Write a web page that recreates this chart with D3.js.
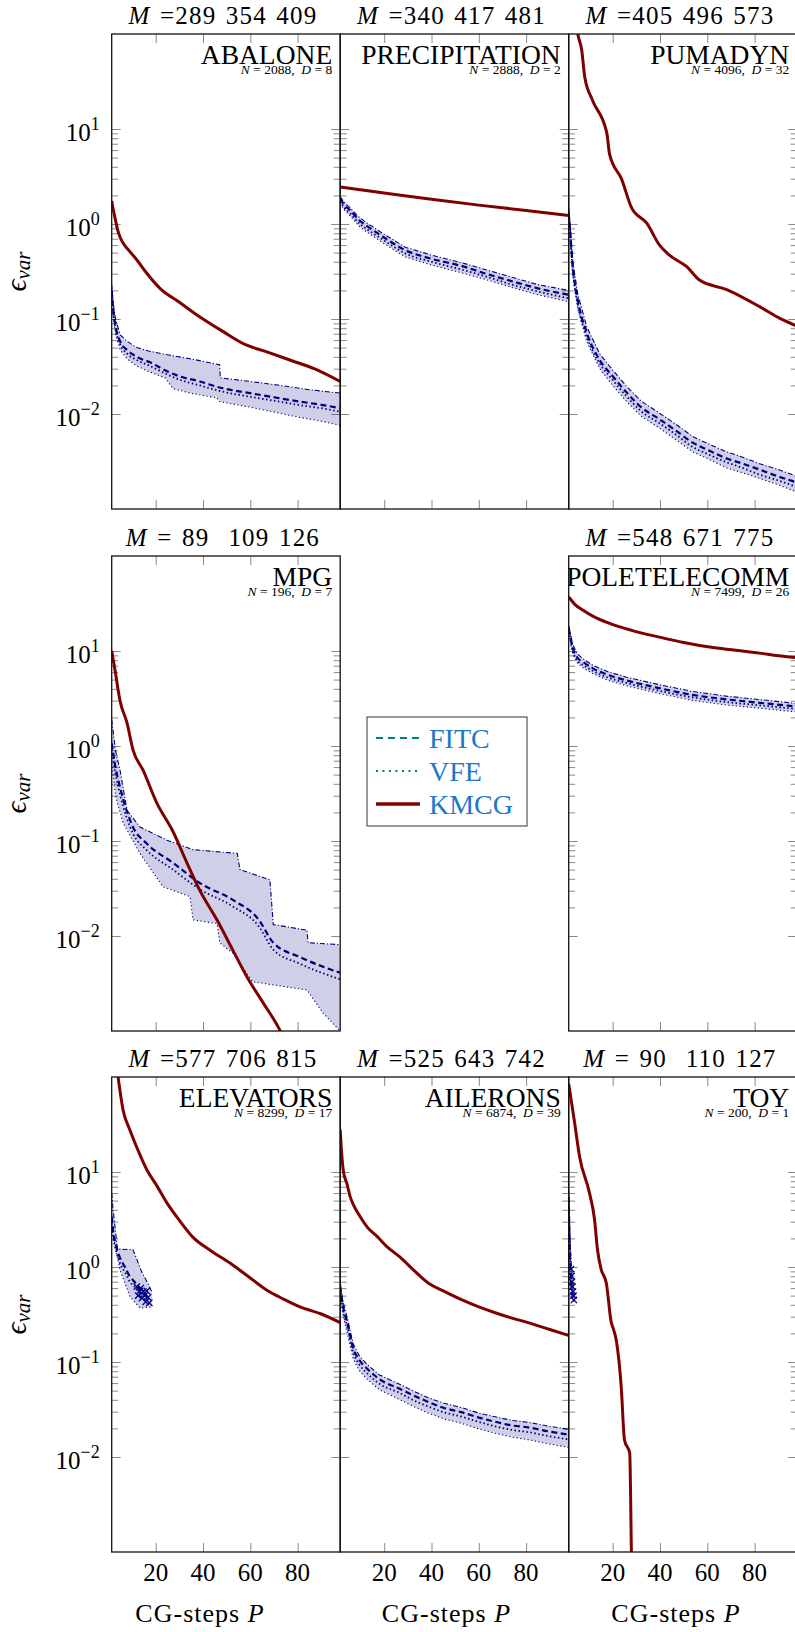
<!DOCTYPE html>
<html>
<head>
<meta charset="utf-8">
<script src="https://cdn.jsdelivr.net/npm/d3@7"></script>
<style>
  body { margin: 0; background: #fff; }
  svg text { font-family: "Liberation Serif", "DejaVu Serif", serif; }
</style>
</head>
<body>
<svg id="chart" width="795" height="1632"></svg>
<script>
// ------------------------------- data -------------------------------
const xTicks = [20, 40, 60, 80];
const yMajor = [0.01, 0.1, 1, 10];
const yTickSup = ['−2', '−1', '0', '1'];

// [CG-step, eps_var]
const abaloneKmcg = [[1.4,1.75],[2,1.45],[3,1.1],[4,0.85],[5,0.72],[6.2,0.63],[8.3,0.54],[12,0.42],[15.5,0.32],[21.8,0.21],[30,0.15],[38.7,0.105],[48,0.075],[57.7,0.054],[67,0.045],[76.7,0.037],[87,0.03],[98,0.022]];
const abaloneFitc = [[1.4,0.2],[2,0.13],[3,0.085],[5,0.058],[8,0.047],[12,0.04],[17.6,0.035],[25,0.028],[30,0.025],[38.7,0.022],[47,0.019],[59.8,0.0166],[70,0.015],[81,0.0135],[90,0.0125],[98,0.0115]];
const abaloneVfe = [[1.4,0.19],[2,0.12],[3,0.08],[5,0.054],[8,0.043],[12,0.037],[17.6,0.032],[25,0.026],[30,0.023],[38.7,0.02],[47,0.0175],[59.8,0.0152],[70,0.0138],[81,0.0124],[90,0.0115],[98,0.0106]];
const abaloneHi = [[1.4,0.23],[2,0.15],[3,0.1],[5,0.068],[8,0.058],[12,0.05],[17,0.046],[25,0.042],[35,0.038],[47,0.033],[47.3,0.024],[60,0.022],[72.5,0.02],[85,0.018],[98,0.0166]];
const abaloneLo = [[1.4,0.17],[2,0.105],[3,0.07],[5,0.047],[8,0.038],[12,0.032],[17,0.028],[24,0.024],[27.3,0.0185],[35,0.0165],[45.9,0.0148],[47,0.0135],[60,0.0118],[70,0.0105],[81,0.0092],[90,0.0084],[98,0.0076]];

const precipKmcg = [[1.4,2.45],[20,2.12],[40,1.82],[60,1.58],[80,1.39],[98,1.23]];
const precipFitc = [[1.4,1.85],[3,1.6],[5.6,1.4],[9,1.12],[12.8,0.95],[19.6,0.73],[28.9,0.53],[40,0.43],[53,0.36],[63,0.3],[74,0.25],[85,0.21],[98,0.18]];
const precipVfe = [[1.4,1.75],[3,1.5],[5.6,1.3],[9,1.04],[12.8,0.88],[19.6,0.68],[28.9,0.49],[40,0.4],[53,0.33],[63,0.28],[74,0.23],[85,0.195],[98,0.165]];
const precipHi = [[1.4,1.95],[3,1.7],[5.6,1.48],[9,1.2],[12.8,1.02],[19.6,0.79],[28.9,0.57],[40,0.47],[53,0.39],[63,0.33],[74,0.275],[85,0.23],[98,0.2]];
const precipLo = [[1.4,1.65],[3,1.42],[5.6,1.22],[9,0.97],[12.8,0.82],[19.6,0.63],[28.9,0.45],[40,0.37],[53,0.305],[63,0.26],[74,0.215],[85,0.18],[98,0.152]];

const pumadynKmcg = [[3.5,250],[5.2,102],[6.9,68],[8.2,35],[11.5,20],[17.5,9.1],[18.7,5.4],[23.8,2.95],[28,1.48],[34.4,1.02],[39.8,0.6],[44,0.47],[51.3,0.355],[56.7,0.257],[68.2,0.204],[82.1,0.135],[90.5,0.102],[98,0.084]];
const pumadynFitc = [[1.4,1.3],[1.8,1.0],[3.1,0.36],[5.2,0.16],[9,0.072],[14.5,0.037],[20,0.025],[25.9,0.0168],[32,0.0118],[39.8,0.0088],[47,0.0066],[53.8,0.005],[60,0.0042],[68.2,0.0034],[75,0.003],[82.1,0.0026],[90,0.0022],[98,0.0019]];
const pumadynVfe = [[1.4,1.2],[1.8,0.92],[3.1,0.33],[5.2,0.145],[9,0.066],[14.5,0.034],[20,0.0228],[25.9,0.0153],[32,0.0107],[39.8,0.008],[47,0.006],[53.8,0.0045],[60,0.0038],[68.2,0.0031],[75,0.0027],[82.1,0.0023],[90,0.002],[98,0.0017]];
const pumadynHi = [[1.4,1.45],[1.8,1.12],[3.1,0.41],[5.2,0.185],[9,0.083],[14.5,0.043],[20,0.029],[25.9,0.0195],[32,0.0137],[39.8,0.0102],[47,0.0077],[53.8,0.0058],[60,0.0049],[68.2,0.004],[75,0.0035],[82.1,0.003],[90,0.0026],[98,0.0022]];
const pumadynLo = [[1.4,1.05],[1.8,0.8],[3.1,0.29],[5.2,0.128],[9,0.058],[14.5,0.03],[20,0.02],[25.9,0.0135],[32,0.0095],[39.8,0.0071],[47,0.0053],[53.8,0.004],[60,0.0034],[68.2,0.0027],[75,0.0024],[82.1,0.0021],[90,0.0018],[98,0.0015]];

const mpgKmcg = [[1.4,10],[2.8,6.3],[4.9,3.0],[7.9,1.74],[10.4,0.91],[14.6,0.56],[20.5,0.25],[27.3,0.126],[33.2,0.059],[38.7,0.03],[45.9,0.0148],[52.6,0.0071],[58.6,0.0037],[65.3,0.002],[72.5,0.00102],[78,0.0005]];
const mpgFitc = [[1.4,1.07],[3,0.6],[4.9,0.37],[10.4,0.14],[16,0.095],[27.3,0.059],[38.7,0.036],[52.6,0.024],[63.6,0.0148],[69.7,0.0085],[81,0.006],[98,0.0041]];
const mpgVfe = [[1.4,0.92],[3,0.51],[4.9,0.31],[10.4,0.12],[16,0.081],[27.3,0.05],[38.7,0.031],[52.6,0.0205],[63.6,0.0126],[69.7,0.0072],[81,0.0051],[98,0.0035]];
const mpgHi = [[1.4,1.9],[3,0.9],[4.9,0.56],[7.9,0.21],[13.4,0.14],[24.8,0.102],[35.8,0.081],[54.5,0.074],[55.6,0.05],[68.3,0.039],[69.7,0.0132],[84,0.0115],[84.4,0.0085],[98,0.0081]];
const mpgLo = [[1.4,0.66],[3,0.3],[6.2,0.155],[13.4,0.074],[23.1,0.033],[34.5,0.026],[35.8,0.0148],[45.9,0.0135],[47.1,0.0085],[52.6,0.0066],[61,0.0033],[84,0.0027],[90.7,0.00155],[98,0.001]];

const poleKmcg = [[1.4,37],[1.8,36],[4,31],[7.3,27],[12,23],[18.7,19.5],[28,16.5],[39.8,14],[50,12.3],[61,11],[72,10.2],[82.1,9.5],[90,8.9],[98,8.5]];
const poleFitc = [[1.4,17],[1.8,15.5],[3,11],[4.8,8.7],[8,7.5],[11.5,6.6],[18,5.6],[25.9,4.9],[40,4.05],[53.8,3.45],[68,3.1],[82.1,2.85],[98,2.6]];
const poleVfe = [[1.4,16],[1.8,14.5],[3,10.3],[4.8,8.1],[8,7],[11.5,6.2],[18,5.25],[25.9,4.6],[40,3.8],[53.8,3.25],[68,2.9],[82.1,2.68],[98,2.45]];
const poleHi = [[1.4,18.5],[1.8,16.8],[3,12],[4.8,9.4],[8,8.1],[11.5,7.1],[18,6.05],[25.9,5.3],[40,4.4],[53.8,3.75],[68,3.35],[82.1,3.08],[98,2.8]];
const poleLo = [[1.4,15],[1.8,13.6],[3,9.6],[4.8,7.6],[8,6.5],[11.5,5.8],[18,4.9],[25.9,4.3],[40,3.55],[53.8,3.02],[68,2.7],[82.1,2.5],[98,2.28]];

const elevKmcg = [[3.5,130],[4.1,100],[6.2,45],[9.1,27.7],[12.5,17],[16.3,10.5],[20,7.5],[24.8,4.7],[30,3.1],[35.8,2.05],[43,1.5],[51.4,1.1],[59,0.8],[67,0.57],[74,0.46],[81,0.38],[90,0.32],[98,0.26]];
const elevFitc = [[1.4,3.4],[2,2.4],[3.5,1.6],[4.9,1.25],[7,1.0],[9.1,0.79],[11,0.7],[13.4,0.58],[15,0.52],[16.6,0.49]];
const elevVfe = [[1.4,2.9],[2,2.1],[3.5,1.4],[4.9,1.1],[7,0.88],[9.1,0.7],[11,0.62],[13.4,0.52],[15,0.47],[16.6,0.44]];
const elevHi = [[1.4,6],[2,4],[3,2.4],[3.8,1.55],[10.4,1.52],[14,0.9],[17,0.65],[18.5,0.54]];
const elevLo = [[1.4,2.6],[2.1,2.1],[4.9,0.93],[9.1,0.49],[13.4,0.37],[18.5,0.38]];
const elevMarks = [[12,0.62],[12.6,0.5],[13.2,0.56],[13.7,0.6],[14.2,0.47],[14.8,0.55],[15.3,0.5],[15.8,0.43],[16.2,0.56],[16.8,0.48],[17.3,0.42]];

const aileronsKmcg = [[1.4,28],[2,16],[2.8,10],[4.2,7.6],[5.6,5.5],[7,4.5],[9.8,3.4],[13,2.6],[17,2.1],[21,1.65],[26.7,1.27],[32,0.95],[38.6,0.68],[45,0.56],[52.9,0.45],[60,0.38],[66.9,0.33],[74,0.29],[80.8,0.26],[90,0.22],[98,0.19]];
const aileronsFitc = [[1.4,0.62],[2.5,0.4],[4.4,0.26],[6.9,0.14],[9.5,0.105],[12.8,0.085],[18,0.066],[26.7,0.052],[32,0.045],[38.6,0.038],[45,0.033],[52.9,0.0295],[60,0.026],[66.9,0.0235],[74,0.0215],[80.8,0.0205],[90,0.0185],[98,0.0172]];
const aileronsVfe = [[1.4,0.56],[2.5,0.36],[4.4,0.235],[6.9,0.126],[9.5,0.094],[12.8,0.076],[18,0.059],[26.7,0.047],[32,0.04],[38.6,0.034],[45,0.0297],[52.9,0.0265],[60,0.0234],[66.9,0.021],[74,0.0193],[80.8,0.0183],[90,0.0165],[98,0.0153]];
const aileronsHi = [[1.4,0.68],[2.5,0.44],[4.4,0.29],[6.9,0.155],[9.5,0.116],[12.8,0.094],[18,0.073],[26.7,0.058],[32,0.05],[38.6,0.042],[45,0.037],[52.9,0.033],[60,0.029],[66.9,0.0265],[74,0.0243],[80.8,0.0232],[90,0.021],[98,0.0196]];
const aileronsLo = [[1.4,0.5],[2.5,0.32],[4.4,0.2],[6.9,0.108],[9.5,0.081],[12.8,0.066],[18,0.051],[26.7,0.04],[32,0.0345],[38.6,0.029],[45,0.0253],[52.9,0.0225],[60,0.0198],[66.9,0.0178],[74,0.0162],[80.8,0.0152],[90,0.0137],[98,0.0126]];

const toyKmcg = [[1.4,85],[1.8,73],[3.9,33],[6,14.5],[10.2,6],[12.3,3.2],[13.6,1.5],[15.2,0.93],[17.3,0.68],[19.4,0.26],[20.1,0.23],[21.5,0.17],[23.6,0.055],[25,0.015],[27.2,0.011],[27.9,0.001],[28.1,0.0005]];
const toyFitc = [[1.4,5.5],[1.6,3],[1.9,1.5],[2.2,0.9],[2.6,0.62],[3.2,0.48]];
const toyVfe = [[1.4,5],[1.6,2.7],[1.9,1.35],[2.2,0.82],[2.6,0.57],[3.2,0.45]];
const toyHi = [[1.4,6.5],[1.7,3.5],[2,1.8],[2.6,1.0],[3.3,0.6],[3.8,0.5]];
const toyLo = [[1.4,5],[1.7,2.5],[2,1.2],[2.6,0.7],[3.3,0.45],[3.8,0.42]];
const toyMarks = [[2.4,0.95],[2.6,0.8],[2.8,0.7],[3,0.62],[3.2,0.55],[3.4,0.5],[3.6,0.45]];

// ------------------------------ layout ------------------------------
const colX = [111.7, 340.2, 568.7];
const rowY = [34, 556, 1077];
const panelW = 228.5, panelH = 475;
const xDomain = [1.4, 98], yDomain = [1e-3, 1e2];
const navy = '#00007f', maroon = '#7f0000';

const panels = [
  {row: 0, col: 0, name: 'ABALONE', n: '2088', d: '8', title: '=289 354 409', kmcg: abaloneKmcg, fitc: abaloneFitc, vfe: abaloneVfe, hi: abaloneHi, lo: abaloneLo},
  {row: 0, col: 1, name: 'PRECIPITATION', n: '2888', d: '2', title: '=340 417 481', kmcg: precipKmcg, fitc: precipFitc, vfe: precipVfe, hi: precipHi, lo: precipLo},
  {row: 0, col: 2, name: 'PUMADYN', n: '4096', d: '32', title: '=405 496 573', kmcg: pumadynKmcg, fitc: pumadynFitc, vfe: pumadynVfe, hi: pumadynHi, lo: pumadynLo},
  {row: 1, col: 0, name: 'MPG', n: '196', d: '7', title: '= 89  109 126', kmcg: mpgKmcg, fitc: mpgFitc, vfe: mpgVfe, hi: mpgHi, lo: mpgLo},
  {row: 1, col: 2, name: 'POLETELECOMM', n: '7499', d: '26', title: '=548 671 775', kmcg: poleKmcg, fitc: poleFitc, vfe: poleVfe, hi: poleHi, lo: poleLo},
  {row: 2, col: 0, name: 'ELEVATORS', n: '8299', d: '17', title: '=577 706 815', kmcg: elevKmcg, fitc: elevFitc, vfe: elevVfe, hi: elevHi, lo: elevLo, marks: elevMarks},
  {row: 2, col: 1, name: 'AILERONS', n: '6874', d: '39', title: '=525 643 742', kmcg: aileronsKmcg, fitc: aileronsFitc, vfe: aileronsVfe, hi: aileronsHi, lo: aileronsLo},
  {row: 2, col: 2, name: 'TOY', n: '200', d: '1', title: '= 90  110 127', kmcg: toyKmcg, fitc: toyFitc, vfe: toyVfe, hi: toyHi, lo: toyLo, marks: toyMarks}
];

const svg = d3.select('#chart');
const x = d3.scaleLinear().domain(xDomain).range([0, panelW]);
const y = d3.scaleLog().domain(yDomain).range([panelH, 0]);

let yMinor = [];
[0.01, 0.1, 1].forEach(function (base) {
  for (let k = 2; k <= 9; k++) yMinor.push(base * k);
});

const line = d3.line().x(d => x(d[0])).y(d => y(d[1]));
const smooth = d3.line().x(d => x(d[0])).y(d => y(d[1])).curve(d3.curveMonotoneX);

function styleTicks(g) {
  g.select('.domain').remove();
  g.selectAll('line').attr('stroke', '#8a8a8a').attr('stroke-width', 1);
}

panels.forEach(function (p, i) {
  let g = svg.append('g').attr('transform', 'translate(' + colX[p.col] + ',' + rowY[p.row] + ')');
  let clipId = 'clip' + i;
  g.append('clipPath').attr('id', clipId)
    .append('rect').attr('width', panelW).attr('height', panelH);

  // ticks (inward, both sides)
  g.append('g').call(d3.axisRight(y).tickValues(yMajor).tickSize(9).tickFormat('')).call(styleTicks);
  g.append('g').call(d3.axisRight(y).tickValues(yMinor).tickSize(6.5).tickFormat('')).call(styleTicks);
  g.append('g').attr('transform', 'translate(' + panelW + ',0)')
    .call(d3.axisLeft(y).tickValues(yMajor).tickSize(9).tickFormat('')).call(styleTicks);
  g.append('g').attr('transform', 'translate(' + panelW + ',0)')
    .call(d3.axisLeft(y).tickValues(yMinor).tickSize(6.5).tickFormat('')).call(styleTicks);
  g.append('g').call(d3.axisBottom(x).tickValues(xTicks).tickSize(9).tickFormat('')).call(styleTicks);
  g.append('g').attr('transform', 'translate(0,' + panelH + ')')
    .call(d3.axisTop(x).tickValues(xTicks).tickSize(9).tickFormat('')).call(styleTicks);

  let plot = g.append('g').attr('clip-path', 'url(#' + clipId + ')');

  // dataset name
  plot.append('text')
    .attr('x', panelW - 8).attr('y', 30)
    .attr('text-anchor', 'end')
    .style('font-size', '27.5px')
    .text(p.name);
  let sub = plot.append('text')
    .attr('x', panelW - 8).attr('y', 40)
    .attr('text-anchor', 'end')
    .style('font-size', '13.5px')
    .attr('xml:space', 'preserve');
  sub.append('tspan').style('font-style', 'italic').text('N');
  sub.append('tspan').text(' = ' + p.n + ',  ');
  sub.append('tspan').style('font-style', 'italic').text('D');
  sub.append('tspan').text(' = ' + p.d);

  // band
  plot.append('path')
    .attr('d', line(p.hi.concat(p.lo.slice().reverse())) + 'Z')
    .attr('fill', navy).attr('fill-opacity', 0.19).attr('stroke', 'none');
  plot.append('path').attr('d', line(p.hi)).attr('fill', 'none')
    .attr('stroke', navy).attr('stroke-width', 1.1).attr('stroke-dasharray', '5,2,1.2,2');
  plot.append('path').attr('d', line(p.lo)).attr('fill', 'none')
    .attr('stroke', navy).attr('stroke-width', 1.1).attr('stroke-dasharray', '1.2,2.5');
  plot.append('path').attr('d', smooth(p.vfe)).attr('fill', 'none')
    .attr('stroke', navy).attr('stroke-width', 1.8).attr('stroke-dasharray', '1.5,2.5');
  plot.append('path').attr('d', smooth(p.fitc)).attr('fill', 'none')
    .attr('stroke', navy).attr('stroke-width', 2.2).attr('stroke-dasharray', '6,3.5');

  if (p.marks) {
    plot.selectAll('.mark').data(p.marks).enter().append('path')
      .attr('d', d3.symbol().type(d3.symbolX).size(28))
      .attr('transform', d => 'translate(' + x(d[0]) + ',' + y(d[1]) + ')')
      .attr('fill', 'none').attr('stroke', navy).attr('stroke-width', 1.3);
  }

  plot.append('path').attr('d', smooth(p.kmcg)).attr('fill', 'none')
    .attr('stroke', maroon).attr('stroke-width', 3).attr('stroke-linejoin', 'round');

  // frame
  g.append('rect').attr('width', panelW).attr('height', panelH)
    .attr('fill', 'none').attr('stroke', '#111').attr('stroke-width', 1.3);

  // title
  let t = g.append('text')
    .attr('x', panelW / 2 - 3).attr('y', -10)
    .attr('text-anchor', 'middle')
    .attr('xml:space', 'preserve')
    .style('font-size', '25px').style('letter-spacing', '1.2px').style('word-spacing', '2px');
  t.append('tspan').style('font-style', 'italic').text('M');
  t.append('tspan').text(' ' + p.title);

  // y tick labels and y label on first column
  if (p.col === 0) {
    yMajor.forEach(function (v, k) {
      let lbl = g.append('text')
        .attr('x', -12).attr('y', y(v) + 12)
        .attr('text-anchor', 'end')
        .style('font-size', '25px');
      lbl.append('tspan').text('10');
      lbl.append('tspan').attr('dy', -11).style('font-size', '18px').text(yTickSup[k]);
    });
    let yl = g.append('text')
      .attr('transform', 'translate(' + (26 - colX[0]) + ',' + (panelH / 2) + ') rotate(-90)')
      .attr('text-anchor', 'middle');
    yl.append('tspan').style('font-style', 'italic').style('font-size', '30px').text('ϵ');
    yl.append('tspan').attr('dy', 4).style('font-style', 'italic').style('font-size', '21px').text('var');
  }

  // x tick labels and x label on bottom row
  if (p.row === 2) {
    xTicks.forEach(function (v) {
      g.append('text')
        .attr('x', x(v)).attr('y', panelH + 29)
        .attr('text-anchor', 'middle')
        .style('font-size', '25px')
        .text(v);
    });
    let xlOffset = [-26, -8, -7][p.col];
    let xl = g.append('text')
      .attr('x', panelW / 2 + xlOffset).attr('y', panelH + 70)
      .attr('text-anchor', 'middle')
      .attr('xml:space', 'preserve')
      .style('font-size', '26px').style('letter-spacing', '1px');
    xl.append('tspan').text('CG-steps ');
    xl.append('tspan').style('font-style', 'italic').text('P');
  }
});

// ------------------------------ legend ------------------------------
const legendItems = ['FITC', 'VFE', 'KMCG'];
const legendColor = ['#007f7f', '#007f7f', maroon];
const legendDash = ['7,5', '2,4.5', null];
const legendWidth = [2.2, 2.2, 3.5];

let legend = svg.append('g').attr('transform', 'translate(367,717)');
legend.append('rect').attr('width', 160).attr('height', 109)
  .attr('fill', '#fff').attr('stroke', '#333').attr('stroke-width', 1);
legendItems.forEach(function (name, k) {
  let cy = 21 + k * 33;
  legend.append('line')
    .attr('x1', 9).attr('x2', 53).attr('y1', cy).attr('y2', cy)
    .attr('stroke', legendColor[k]).attr('stroke-width', legendWidth[k])
    .attr('stroke-dasharray', legendDash[k]);
  legend.append('text')
    .attr('x', 62).attr('y', cy + 10)
    .style('font-size', '28px').attr('fill', '#1d78c6')
    .text(name);
});
</script>
</body>
</html>
